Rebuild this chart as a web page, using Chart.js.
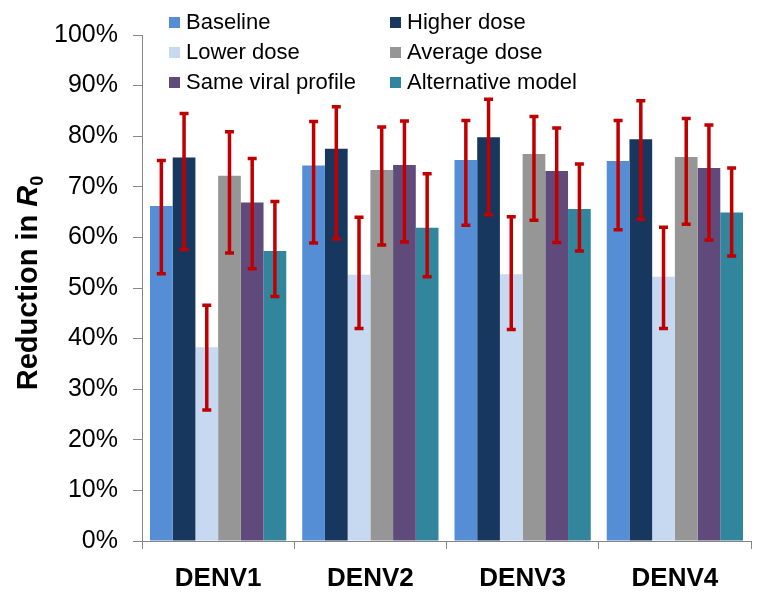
<!DOCTYPE html>
<html>
<head>
<meta charset="utf-8">
<script src="https://cdn.jsdelivr.net/npm/chart.js@4/dist/chart.umd.min.js"></script>
<style>
  html, body { margin: 0; padding: 0; background: #fff; }
  #wrap { width: 764px; height: 593px; }
</style>
</head>
<body>
<div id="wrap"><canvas id="r0Chart" width="764" height="593"></canvas></div>
<script>
// categories and series (percent)
const serotypes = ['DENV1', 'DENV2', 'DENV3', 'DENV4'];
const seriesNames = ['Baseline', 'Higher dose', 'Lower dose', 'Average dose', 'Same viral profile', 'Alternative model'];
const seriesColors = ['#558ED5', '#17375E', '#C6D9F1', '#969696', '#604A7B', '#31859C'];

const baseline     = [66.2, 74.2, 75.3, 75.1];
const higherDose   = [75.8, 77.5, 79.8, 79.4];
const lowerDose    = [38.3, 52.6, 52.7, 52.2];
const averageDose  = [72.2, 73.3, 76.5, 75.9];
const sameViral    = [66.9, 74.3, 73.1, 73.7];
const altModel     = [57.3, 61.9, 65.6, 64.9];

// error bar limits
const baselineLo = [52.8, 58.9, 62.4, 61.5], baselineHi = [75.2, 82.9, 83.1, 83.1];
const higherLo   = [57.6, 59.7, 64.5, 63.6], higherHi   = [84.5, 85.8, 87.3, 87.0];
const lowerLo    = [25.9, 42.0, 41.8, 42.0], lowerHi    = [46.6, 64.0, 64.1, 62.0];
const averageLo  = [56.9, 58.5, 63.4, 62.6], averageHi  = [80.9, 81.8, 83.9, 83.5];
const sameLo     = [53.8, 59.1, 59.0, 59.5], sameHi     = [75.6, 83.0, 81.6, 82.2];
const altLo      = [48.3, 52.2, 57.3, 56.3], altHi      = [67.1, 72.6, 74.5, 73.7];

const yTicks = [0, 10, 20, 30, 40, 50, 60, 70, 80, 90, 100];

const values = [baseline, higherDose, lowerDose, averageDose, sameViral, altModel];
const lows = [baselineLo, higherLo, lowerLo, averageLo, sameLo, altLo];
const highs = [baselineHi, higherHi, lowerHi, averageHi, sameHi, altHi];

const FONT = 'Arial, "Liberation Sans", sans-serif';

// red error bars with caps
const errorBars = {
  id: 'errorBars',
  afterDatasetsDraw(chart) {
    const ctx = chart.ctx;
    const y = chart.scales.y;
    ctx.save();
    ctx.strokeStyle = '#C00000';
    ctx.lineWidth = 3.5;
    chart.data.datasets.forEach((ds, i) => {
      const meta = chart.getDatasetMeta(i);
      meta.data.forEach((bar, j) => {
        const yl = y.getPixelForValue(lows[i][j]);
        const yh = y.getPixelForValue(highs[i][j]);
        ctx.beginPath();
        ctx.moveTo(bar.x, yl); ctx.lineTo(bar.x, yh);
        ctx.moveTo(bar.x - 4.5, yl); ctx.lineTo(bar.x + 4.5, yl);
        ctx.moveTo(bar.x - 4.5, yh); ctx.lineTo(bar.x + 4.5, yh);
        ctx.stroke();
      });
    });
    ctx.restore();
  }
};

// two-column legend in the top of the plot
const legendBox = {
  id: 'legendBox',
  afterDraw(chart) {
    const ctx = chart.ctx;
    ctx.save();
    ctx.font = '22px ' + FONT;
    ctx.textBaseline = 'middle';
    chart.data.datasets.forEach((ds, i) => {
      const col = i % 2, row = Math.floor(i / 2);
      const bx = col === 0 ? 169 : 390;
      const cy = 23 + row * 30;
      ctx.fillStyle = ds.backgroundColor;
      ctx.fillRect(bx, cy - 6, 11, 11);
      ctx.fillStyle = '#000';
      ctx.fillText(ds.label, bx + 17, cy);
    });
    ctx.restore();
  }
};

// rotated y title with italic R and subscript 0
const yTitle = {
  id: 'yTitle',
  afterDraw(chart) {
    const ctx = chart.ctx;
    const main = 'Reduction in ';
    ctx.save();
    ctx.fillStyle = '#000';
    ctx.textBaseline = 'alphabetic';
    ctx.font = 'bold 29px ' + FONT;
    const w1 = ctx.measureText(main).width;
    ctx.font = 'italic bold 29px ' + FONT;
    const w2 = ctx.measureText('R').width;
    ctx.font = 'bold 18px ' + FONT;
    const w3 = ctx.measureText('0').width;
    const total = w1 + w2 + w3;
    ctx.translate(37, 283);
    ctx.rotate(-Math.PI / 2);
    let x = -total / 2;
    ctx.font = 'bold 29px ' + FONT;
    ctx.fillText(main, x, 0); x += w1;
    ctx.font = 'italic bold 29px ' + FONT;
    ctx.fillText('R', x, 0); x += w2;
    ctx.font = 'bold 18px ' + FONT;
    ctx.fillText('0', x, 6);
    ctx.restore();
  }
};

const ctx = document.getElementById('r0Chart').getContext('2d');
const r0Chart = new Chart(ctx, {
  type: 'bar',
  data: {
    labels: serotypes,
    datasets: seriesNames.map((name, i) => ({
      label: name,
      data: values[i],
      backgroundColor: seriesColors[i],
      borderWidth: 0,
      categoryPercentage: 0.895,
      barPercentage: 1.0
    }))
  },
  options: {
    responsive: false,
    animation: false,
    layout: { padding: { top: 35, right: 13, left: 0, bottom: 0 } },
    plugins: {
      legend: { display: false },
      tooltip: { enabled: false }
    },
    scales: {
      x: {
        afterFit(scale) { scale.height = 52; },
        grid: {
          display: true,
          drawOnChartArea: false,
          drawTicks: true,
          tickLength: 8,
          color: '#868686'
        },
        border: { color: '#868686', width: 1 },
        ticks: {
          color: '#000',
          padding: 14,
          font: { family: FONT, size: 26, weight: 'bold' }
        }
      },
      y: {
        min: 0,
        max: 100,
        afterFit(scale) { scale.width = 142; },
        afterBuildTicks(scale) { scale.ticks = yTicks.map(v => ({ value: v })); },
        grid: {
          display: true,
          drawOnChartArea: false,
          drawTicks: true,
          tickLength: 9,
          color: '#868686'
        },
        border: { color: '#868686', width: 1 },
        ticks: {
          color: '#000',
          padding: 15,
          font: { family: FONT, size: 25 },
          callback: v => v + '%'
        }
      }
    }
  },
  plugins: [errorBars, legendBox, yTitle]
});
</script>
</body>
</html>
